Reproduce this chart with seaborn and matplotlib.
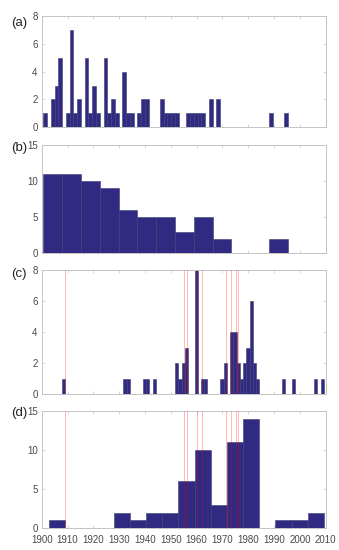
import numpy as np
import pandas as pd
import seaborn as sns
import matplotlib.pyplot as plt

# ---- data ----
# (a) fine bins and (b) coarse bins over the same year span
span_ab = (1900.6, 1995.3)
counts_a = [1, 0, 2, 3, 5, 0, 1, 7, 1, 2, 0, 5, 1, 3, 1, 0, 5, 1, 2, 1,
            0, 4, 1, 1, 0, 1, 2, 2, 0, 0, 0, 2, 1, 1, 1, 1, 0, 0, 1, 1,
            1, 1, 1, 0, 2, 0, 2, 0, 0, 0, 0, 0, 0, 0, 0, 0, 0, 0, 0, 0,
            1, 0, 0, 0, 1]
counts_b = [11, 11, 10, 9, 6, 5, 5, 3, 5, 2, 0, 0, 2]

# (c) fine bins and (d) coarse bins over the same year span
span_cd = (1902.8, 2009.3)
counts_c = [0, 0, 0, 0, 1,  0, 0, 0, 0, 0,  0, 0, 0, 0, 0,  0, 0, 0, 0, 0,
            0, 0, 0, 1, 1,  0, 0, 0, 0, 1,  1, 0, 1, 0, 0,  0, 0, 0, 0, 2,
            1, 2, 3, 0, 0,  8, 0, 1, 1, 0,  0, 0, 0, 1, 2,  0, 4, 4, 2, 1,
            2, 3, 6, 2, 1,  0, 0, 0, 0, 0,  0, 0, 1, 0, 0,  1, 0, 0, 0, 0,
            0, 0, 1, 0, 1]
counts_d = [1, 0, 0, 0, 2, 1, 2, 2, 6, 10, 3, 11, 14, 0, 1, 1, 2]

event_years = [1909.0, 1955.2, 1956.1, 1960.2, 1962.2, 1971.4, 1973.3, 1975.1, 1976.1]

panel_labels = ['(a)', '(b)', '(c)', '(d)']
ylims = [8, 15, 8, 15]
yticks = [[0, 2, 4, 6, 8], [0, 5, 10, 15], [0, 2, 4, 6, 8], [0, 5, 10, 15]]
xticks = list(range(1900, 2011, 10))

sns.set_style('white')
plt.rcParams['font.family'] = ['Liberation Sans', 'DejaVu Sans']

bar_color = '#312a82'
edge_color = '#3c3c70'
spine_color = '#c4c4c4'
text_color = '#4a4a4a'

fig = plt.figure(figsize=(3.39, 5.5), dpi=100)

# axes boxes in pixels: (top, bottom)
boxes = [(16, 127.3), (145, 253.3), (270, 394.3), (410.7, 528.3)]
label_top = [17, 142.5, 268.5, 407]
left_px, right_px = 41.8, 325.7

panels = [(counts_a, span_ab), (counts_b, span_ab), (counts_c, span_cd), (counts_d, span_cd)]

for i, ((counts, span), (top, bot)) in enumerate(zip(panels, boxes)):
    ax = fig.add_axes([left_px / 339, 1 - bot / 550,
                       (right_px - left_px) / 339, (bot - top) / 550])
    edges = np.linspace(span[0], span[1], len(counts) + 1)
    df = pd.DataFrame({'year': (edges[:-1] + edges[1:]) / 2, 'n': counts})
    sns.histplot(data=df, x='year', weights='n', bins=edges.tolist(), ax=ax,
                 color=bar_color, alpha=1, edgecolor=edge_color, linewidth=0.4)

    if i >= 2:
        for yr in event_years:
            ax.axvline(yr, color='red', alpha=0.28, lw=0.7, zorder=5)

    ax.set_xlim(1900, 2010)
    ax.set_ylim(0, ylims[i])
    ax.set_xticks(xticks)
    ax.set_yticks(yticks[i])
    ax.set_xlabel('')
    ax.set_ylabel('')
    if i < 3:
        ax.set_xticklabels([])

    for s in ax.spines.values():
        s.set_color(spine_color)
        s.set_linewidth(0.7)
    ax.tick_params(direction='in', length=2.5, width=0.5, color=spine_color,
                   top=True, right=True, bottom=True, left=True,
                   labelsize=7, labelcolor=text_color, pad=3)
    ax.tick_params(axis='x', pad=4.5)

    fig.text(11 / 339, 1 - label_top[i] / 550, panel_labels[i],
             ha='left', va='top', fontsize=9.5, color='#222222')

plt.savefig('out.png', dpi=100)
plt.close()
